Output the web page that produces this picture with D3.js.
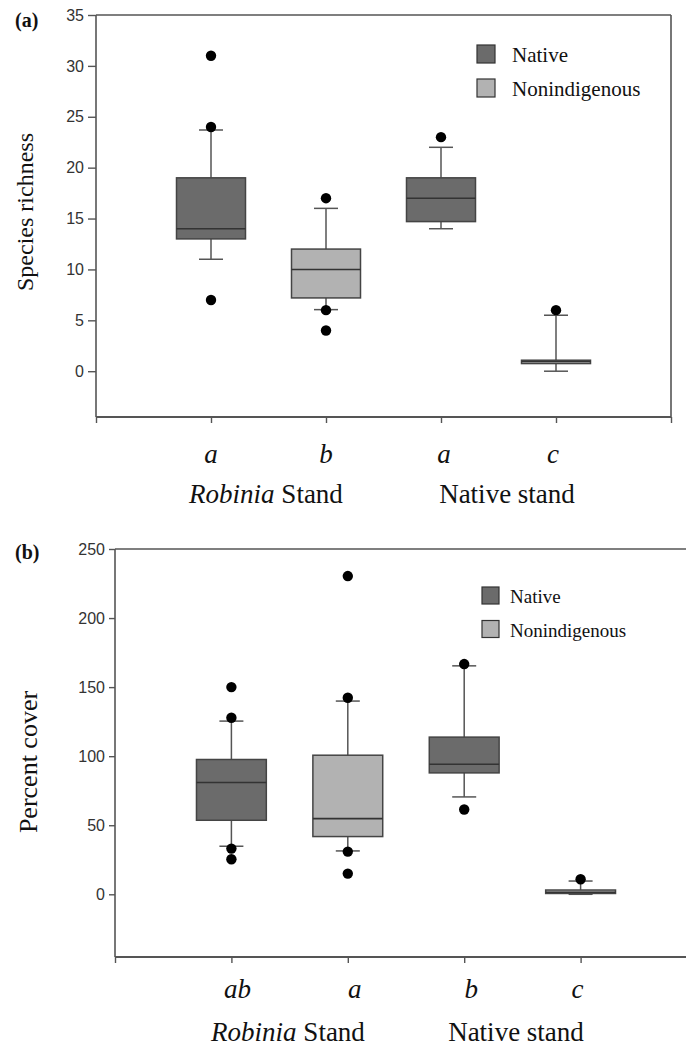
<!DOCTYPE html>
<html><head><meta charset="utf-8">
<script src="https://cdn.jsdelivr.net/npm/d3@7"></script>
<style>html,body{margin:0;padding:0;background:#fff;overflow:hidden}</style>
</head><body>
<svg id="c" width="686" height="1049"></svg>
<script>
// ---- data ----
const seriesNames = ["Native", "Nonindigenous"];
const boxSeries = ["Native", "Nonindigenous", "Native", "Nonindigenous"];
const groupLabels = ["Robinia Stand", "Native stand"];

// Panel (a): species richness
const aLetters = ["a", "b", "a", "c"];
const aQ1 = [13, 7.2, 14.7, 0.75];
const aMedian = [14, 10, 17, 0.95];
const aQ3 = [19, 12, 19, 1.08];
const aWhiskLow = [11, 6.05, 14, 0];
const aWhiskHigh = [23.7, 16, 22, 5.5];
const aOutliers = [[31, 24, 7], [17, 6, 4], [23], [6]];
const aTicks = [0, 5, 10, 15, 20, 25, 30, 35];

// Panel (b): percent cover
const bLetters = ["ab", "a", "b", "c"];
const bQ1 = [53.6, 41.8, 87.9, 0.6];
const bMedian = [80.9, 54.8, 94.2, 1.5];
const bQ3 = [97.6, 100.7, 113.8, 3.1];
const bWhiskLow = [34.8, 31.4, 70.5, 0];
const bWhiskHigh = [125.4, 139.9, 165.4, 9.6];
const bOutliers = [[150, 127.8, 33.1, 25.4], [230.4, 142.3, 30.9, 15], [166.7, 61.4], [10.9]];
const bTicks = [0, 50, 100, 150, 200, 250];

const colors = {"Native": "#6b6b6b", "Nonindigenous": "#b2b2b2"};

const svg = d3.select("#c");
const SERIF = "'Liberation Serif','Times New Roman',serif";
const SANS = "'Liberation Sans',Arial,sans-serif";
const AX = "#555";

function panel(o) {
  const g = svg.append("g");
  const x = d3.scaleLinear().domain([0, 5]).range([o.left, o.right]);
  const y = d3.scaleLinear().domain(o.yDomain).range([o.bottom, o.top]);
  // frame top / right
  g.append("line").attr("x1", o.left).attr("x2", o.right).attr("y1", o.top).attr("y2", o.top)
    .attr("stroke", AX).attr("stroke-width", 1.6);
  g.append("line").attr("x1", o.right).attr("x2", o.right).attr("y1", o.top).attr("y2", o.bottom)
    .attr("stroke", AX).attr("stroke-width", 1.6);
  // y axis
  const ya = g.append("g").attr("transform", `translate(${o.left},0)`)
    .call(d3.axisLeft(y).tickValues(o.ticks).tickSize(o.tickLen).tickSizeOuter(0).tickPadding(4));
  ya.select(".domain").remove();
  g.append("line").attr("x1", o.left).attr("x2", o.left).attr("y1", o.top).attr("y2", o.bottom)
    .attr("stroke", AX).attr("stroke-width", 1.6);
  ya.selectAll(".tick line").attr("stroke", AX).attr("stroke-width", 1.4);
  ya.selectAll(".tick text").attr("fill", "#333").style("font-family", SANS).style("font-size", "16px");
  // x axis
  const xa = g.append("g").attr("transform", `translate(0,${o.bottom})`)
    .call(d3.axisBottom(x).tickValues([0, 1, 2, 3, 4, 5]).tickSize(6).tickSizeOuter(0).tickFormat(""));
  xa.select(".domain").remove();
  xa.selectAll(".tick line").attr("stroke", AX).attr("stroke-width", 1.4);
  g.append("line").attr("x1", o.left).attr("x2", o.right).attr("y1", o.bottom).attr("y2", o.bottom)
    .attr("stroke", AX).attr("stroke-width", 1.8);

  const bw = (x(1) - x(0)) * 0.6, cw = 24;
  const idx = d3.range(4);
  // whiskers
  idx.forEach(i => {
    const cx = x(i + 1);
    g.append("line").attr("x1", cx).attr("x2", cx).attr("y1", y(o.wl[i])).attr("y2", y(o.q1[i]))
      .attr("stroke", "#555").attr("stroke-width", 1.5);
    g.append("line").attr("x1", cx).attr("x2", cx).attr("y1", y(o.q3[i])).attr("y2", y(o.wh[i]))
      .attr("stroke", "#555").attr("stroke-width", 1.5);
    [o.wl[i], o.wh[i]].forEach(v => g.append("line").attr("x1", cx - cw / 2).attr("x2", cx + cw / 2)
      .attr("y1", y(v)).attr("y2", y(v)).attr("stroke", "#555").attr("stroke-width", 1.5));
    g.append("rect").attr("x", cx - bw / 2).attr("width", bw)
      .attr("y", y(o.q3[i])).attr("height", Math.max(2, y(o.q1[i]) - y(o.q3[i])))
      .attr("fill", colors[boxSeries[i]]).attr("stroke", "#444").attr("stroke-width", 1.5);
    g.append("line").attr("x1", cx - bw / 2).attr("x2", cx + bw / 2)
      .attr("y1", y(o.med[i])).attr("y2", y(o.med[i])).attr("stroke", "#333").attr("stroke-width", 1.6);
    o.out[i].forEach(v => g.append("circle").attr("cx", cx).attr("cy", y(v)).attr("r", 5.2).attr("fill", "#000"));
  });
  // letters
  idx.forEach(i => g.append("text").attr("x", x(i + 1) + o.letterDx[i]).attr("y", o.letterY)
    .attr("text-anchor", "middle").style("font-family", SERIF).style("font-style", "italic")
    .style("font-size", "27px").attr("fill", "#111").text(o.letters[i]));
  // group labels
  const t1 = g.append("text").attr("x", o.g1x).attr("y", o.groupY).attr("text-anchor", "middle")
    .style("font-family", SERIF).style("font-size", "27px").attr("fill", "#111");
  t1.append("tspan").style("font-style", "italic").text(groupLabels[0].split(" ")[0]);
  t1.append("tspan").text(" " + groupLabels[0].split(" ")[1]);
  g.append("text").attr("x", o.g2x).attr("y", o.groupY).attr("text-anchor", "middle")
    .style("font-family", SERIF).style("font-size", "27px").attr("fill", "#111").text(groupLabels[1]);
  // y label
  g.append("text").attr("transform", `translate(${o.ylabX},${o.ylabY}) rotate(-90)`)
    .attr("text-anchor", "middle").style("font-family", SERIF).style("font-size", o.ylabSize + "px")
    .attr("fill", "#111").text(o.ylab);
  // panel tag
  g.append("text").attr("x", 15).attr("y", o.tagY).style("font-family", SERIF).style("font-weight", "bold")
    .style("font-size", "20px").attr("fill", "#111").text(o.tag);
  // legend
  seriesNames.forEach((s, k) => {
    g.append("rect").attr("x", o.legX).attr("y", o.legY + k * o.legStep).attr("width", o.legSq).attr("height", o.legSq)
      .attr("fill", colors[s]).attr("stroke", "#333").attr("stroke-width", 1.2);
    g.append("text").attr("x", o.legX + o.legSq + o.legGap).attr("y", o.legY + k * o.legStep + o.legSq - 1)
      .style("font-family", SERIF).style("font-size", o.legSize + "px").attr("fill", "#111").text(s);
  });
}

panel({
  left: 96, right: 671, top: 15, bottom: 417, yDomain: [-4.5, 35], ticks: aTicks, tickLen: 8,
  q1: aQ1, med: aMedian, q3: aQ3, wl: aWhiskLow, wh: aWhiskHigh, out: aOutliers,
  letters: aLetters, letterDx: [0, 0, 3, -3], letterY: 463, groupY: 503, g1x: 266, g2x: 507,
  ylab: "Species richness", ylabX: 33, ylabY: 212, ylabSize: 24, tag: "(a)", tagY: 27,
  legX: 477, legY: 45, legStep: 34, legSq: 18, legGap: 17, legSize: 21
});
panel({
  left: 115, right: 697, top: 549, bottom: 957, yDomain: [-45.4, 250], ticks: bTicks, tickLen: 6,
  q1: bQ1, med: bMedian, q3: bQ3, wl: bWhiskLow, wh: bWhiskHigh, out: bOutliers,
  letters: bLetters, letterDx: [6, 7, 7, -3], letterY: 998, groupY: 1041, g1x: 288, g2x: 516,
  ylab: "Percent cover", ylabX: 37, ylabY: 762, ylabSize: 26, tag: "(b)", tagY: 559,
  legX: 482, legY: 587, legStep: 33.5, legSq: 17, legGap: 11, legSize: 19
});
</script>
</body></html>
